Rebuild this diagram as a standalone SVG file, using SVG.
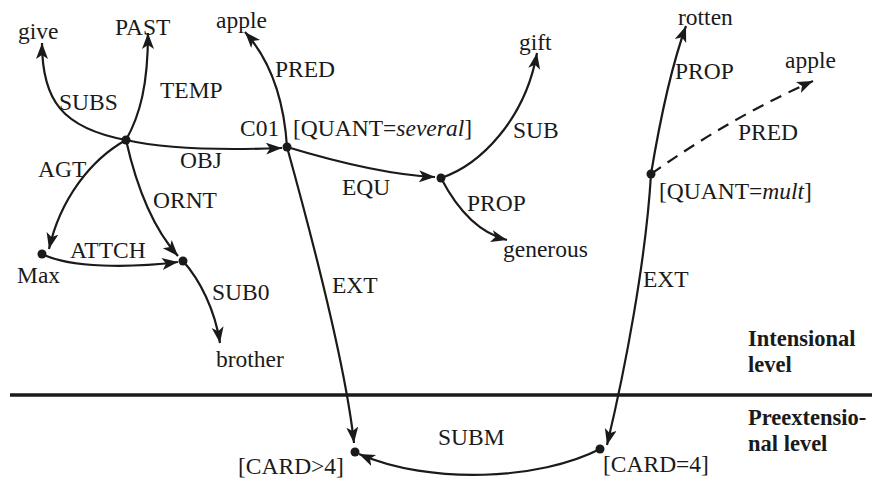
<svg xmlns="http://www.w3.org/2000/svg" width="874" height="479" viewBox="0 0 874 479">
<style>
text{font-family:"Liberation Serif","Times New Roman",serif;font-size:23.5px;fill:#1a1a1a}
.b{font-weight:bold;font-size:22.5px}
.e{fill:none;stroke:#1a1a1a;stroke-width:2.2}
.d{stroke-dasharray:12 8}
.n{fill:#1a1a1a}
</style>
<defs>
<marker id="a" markerUnits="userSpaceOnUse" markerWidth="18" markerHeight="14" refX="16" refY="6" orient="auto">
<path d="M0,0 L16,6 L0,12 L4,6 z" fill="#1a1a1a"/>
</marker>
</defs>
<rect width="874" height="479" fill="#fff"/>
<line x1="10" y1="395" x2="872" y2="395" stroke="#1a1a1a" stroke-width="3.5"/>
<g id="connectors">
<path class="e" marker-end="url(#a)" d="M126,140 C62,128 42,100 42,43"/>
<path class="e" marker-end="url(#a)" d="M126,140 C140,115 148,85 148,33"/>
<path class="e" marker-end="url(#a)" d="M126,140 C170,150 230,150 282,148"/>
<path class="e" marker-end="url(#a)" d="M126,140 C90,160 60,200 49,249"/>
<path class="e" marker-end="url(#a)" d="M126,140 C135,180 150,225 178,256"/>
<path class="e" marker-end="url(#a)" d="M42,254 C70,268 130,268 178,262"/>
<path class="e" marker-end="url(#a)" d="M183,261 C200,280 215,310 220,343"/>
<path class="e" marker-end="url(#a)" d="M287,147 C284,100 270,60 245,32"/>
<path class="e" marker-end="url(#a)" d="M287,147 C310,230 345,360 354,443"/>
<path class="e" marker-end="url(#a)" d="M287,147 C330,160 390,175 435,177"/>
<path class="e" marker-end="url(#a)" d="M441,178 C480,165 525,120 537,53"/>
<path class="e" marker-end="url(#a)" d="M441,178 C455,205 475,232 507,240"/>
<path class="e" marker-end="url(#a)" d="M600,449 C540,480 430,485 359,454"/>
<path class="e" marker-end="url(#a)" d="M651,174 C646,260 625,370 607,445"/>
<path class="e" marker-end="url(#a)" d="M651,174 C660,120 670,70 686,26"/>
<path class="e d" marker-end="url(#a)" d="M651,174 Q730,118 813,81"/>
</g>
<g id="labels">
<text x="59" y="110">SUBS</text>
<text x="160" y="98">TEMP</text>
<text x="180" y="168">OBJ</text>
<text x="38" y="177">AGT</text>
<text x="153" y="208">ORNT</text>
<text x="70" y="258">ATTCH</text>
<text x="212" y="300">SUB0</text>
<text x="275" y="77">PRED</text>
<text x="332" y="293">EXT</text>
<text x="342" y="195">EQU</text>
<text x="513" y="138">SUB</text>
<text x="467" y="211">PROP</text>
<text x="438" y="445">SUBM</text>
<text x="643" y="287">EXT</text>
<text x="675" y="79">PROP</text>
<text x="738" y="140">PRED</text>
</g>
<g id="hub"><circle class="n" cx="126" cy="140" r="4.5"/></g>
<g id="give"><text x="18" y="39">give</text></g>
<g id="past"><text x="115" y="35">PAST</text></g>
<g id="apple1"><text x="216" y="28">apple</text></g>
<g id="c01"><circle class="n" cx="287" cy="147" r="4.5"/><text x="240" y="136">C01</text><text x="293" y="136">[QUANT=<tspan font-style="italic">several</tspan>]</text></g>
<g id="max"><circle class="n" cx="42" cy="254" r="4.5"/><text x="17" y="283">Max</text></g>
<g id="attch"><circle class="n" cx="183" cy="261" r="4.5"/></g>
<g id="brother"><text x="216" y="367">brother</text></g>
<g id="equ"><circle class="n" cx="441" cy="178" r="4.5"/></g>
<g id="gift"><text x="519" y="50">gift</text></g>
<g id="generous"><text x="503" y="257">generous</text></g>
<g id="card4gt"><circle class="n" cx="355" cy="452" r="4.5"/><text x="238" y="474">[CARD&gt;4]</text></g>
<g id="card4eq"><circle class="n" cx="600" cy="449" r="4.5"/><text x="603" y="472">[CARD=4]</text></g>
<g id="mult"><circle class="n" cx="651" cy="174" r="4.5"/><text x="659" y="199">[QUANT=<tspan font-style="italic">mult</tspan>]</text></g>
<g id="rotten"><text x="678" y="25">rotten</text></g>
<g id="apple2"><text x="785" y="68">apple</text></g>
<g id="levels">
<text class="b" x="748" y="346">Intensional</text>
<text class="b" x="748" y="372">level</text>
<text class="b" x="748" y="425">Preextensio-</text>
<text class="b" x="748" y="451">nal level</text>
</g>
</svg>
